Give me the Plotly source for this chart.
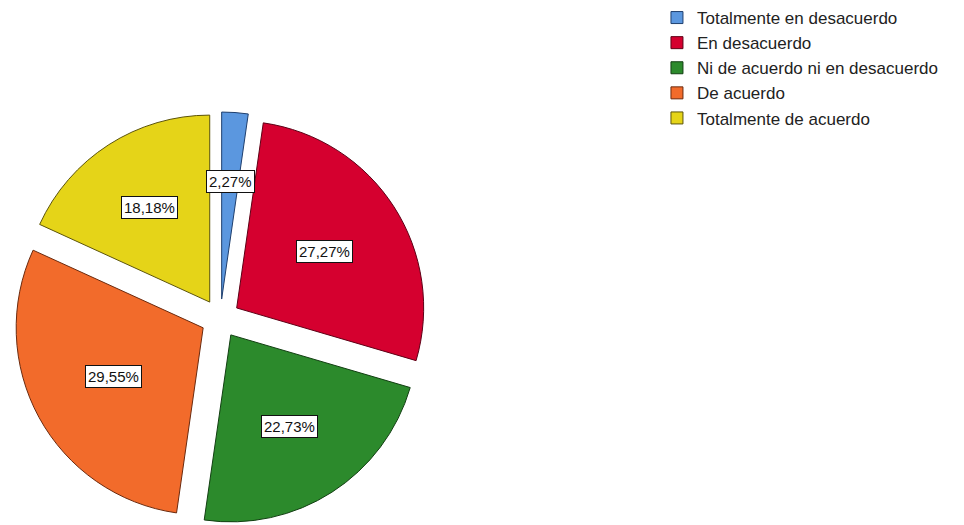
import math
import plotly.graph_objects as go

categories = ["Totalmente en desacuerdo", "En desacuerdo", "Ni de acuerdo ni en desacuerdo",
              "De acuerdo", "Totalmente de acuerdo"]
counts = [1, 12, 10, 13, 8]
fill_colors = ["#5B97DF", "#D5002F", "#2C8A2C", "#F26B2B", "#E5D418"]
line_colors = ["#1F3F6E", "#5E0016", "#123F12", "#6B2A0E", "#5C540A"]

W, H = 964, 525
PULL = 0.1043
dom_x = [0.0143, 0.4427]
dom_y = [0.0, 0.7867]

total = sum(counts)
pcts = [100.0 * c / total for c in counts]
labels_txt = [f"{p:.2f}".replace(".", ",") + "%" for p in pcts]

fig = go.Figure(go.Pie(
    labels=categories,
    values=counts,
    sort=False,
    direction="clockwise",
    rotation=0,
    pull=[PULL] * len(counts),
    marker=dict(colors=fill_colors, line=dict(color=line_colors, width=1)),
    textinfo="none",
    hoverinfo="label+percent",
    domain=dict(x=dom_x, y=dom_y),
))

# label boxes placed near the sector centroids, following plotly's pie geometry
box_w = W * (dom_x[1] - dom_x[0])
box_h = H * (dom_y[1] - dom_y[0])
r = min(box_w, box_h) / (2 + 2 * PULL)
cx = W * (dom_x[0] + dom_x[1]) / 2
cy = H * (1 - dom_y[0]) - box_h / 2
cum = 0.0
for c, txt in zip(counts, labels_txt):
    frac = c / total
    mid = 2 * math.pi * (cum + frac / 2)
    cum += frac
    half = math.pi * frac
    k = 0.95 * 2 * math.sin(half) / (3 * half)
    dist = r * PULL + r * k
    px = cx + dist * math.sin(mid)
    py = cy - dist * math.cos(mid)
    fig.add_annotation(
        x=px / W, y=1 - py / H, xref="paper", yref="paper",
        xanchor="center", yanchor="middle",
        text=txt, showarrow=False,
        font=dict(family="Liberation Sans, Arial", size=15, color="#111111"),
        bgcolor="white", bordercolor="#111111", borderwidth=1, borderpad=2,
    )

fig.update_layout(
    width=W, height=H,
    margin=dict(l=0, r=0, t=0, b=0),
    paper_bgcolor="white",
    plot_bgcolor="white",
    showlegend=True,
    legend=dict(
        x=0.6815, y=1.0, xanchor="left", yanchor="top",
        font=dict(family="Liberation Sans, Arial", size=17, color="#222222"),
        traceorder="normal",
        bgcolor="rgba(0,0,0,0)",
    ),
)

fig.write_html("out.html")
